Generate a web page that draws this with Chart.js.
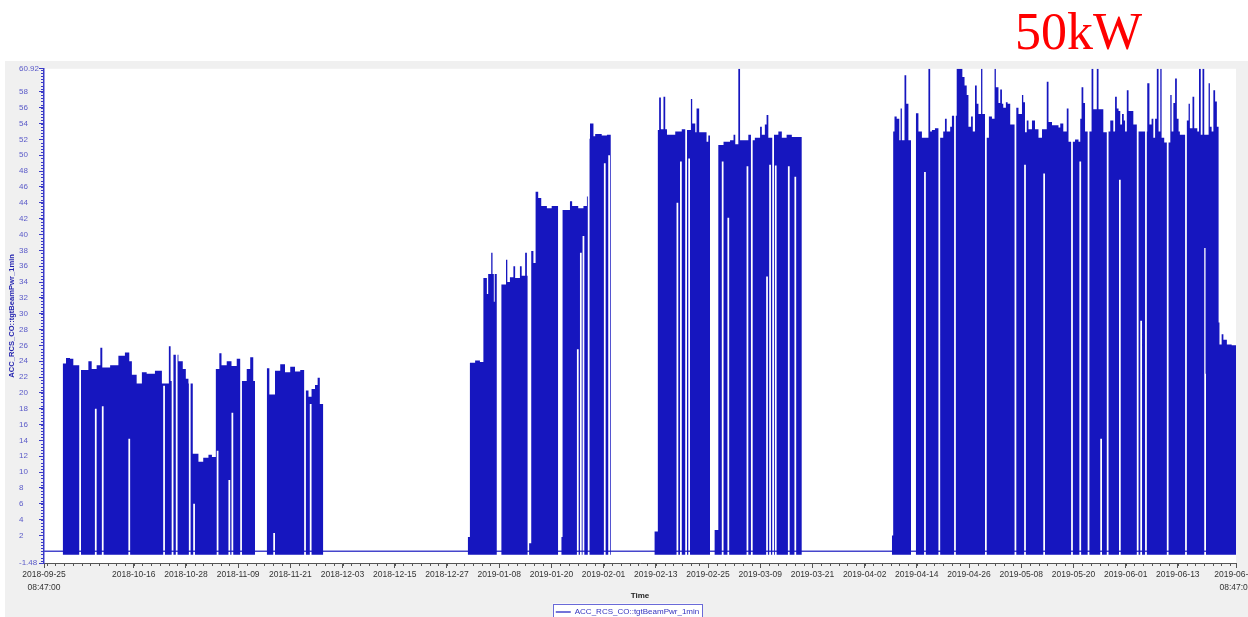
<!DOCTYPE html>
<html>
<head>
<meta charset="utf-8">
<script src="https://cdn.jsdelivr.net/npm/chart.js@4.4.1/dist/chart.umd.min.js"></script>
<style>
  html, body { margin: 0; padding: 0; background: #fff; overflow: hidden; width: 1248px; height: 617px; }
  #bigLabel { position: absolute; left: 1015px; top: 6px; font: 52px/52px "Liberation Serif", "Times New Roman", serif; color: #ff0000; }
  #wrap { position: absolute; left: 5px; top: 61px; width: 1270px; height: 565px; background: #f0f0f0; }
</style>
</head>
<body>
<div id="bigLabel">50kW</div>
<div id="wrap"><canvas id="powerChart" width="1270" height="565"></canvas></div>
<script>
const seriesName = 'ACC_RCS_CO::tgtBeamPwr_1min';
const startTime = Date.UTC(2018, 8, 25, 8, 47);   // 2018-09-25 08:47:00
const spanDays = 274;                             // to 2019-06-26 08:47:00

const xTickDates = ['2018-10-16', '2018-10-28', '2018-11-09', '2018-11-21', '2018-12-03', '2018-12-15',
  '2018-12-27', '2019-01-08', '2019-01-20', '2019-02-01', '2019-02-13', '2019-02-25', '2019-03-09',
  '2019-03-21', '2019-04-02', '2019-04-14', '2019-04-26', '2019-05-08', '2019-05-20', '2019-06-01', '2019-06-13'];
const edgeLabels = [['2018-09-25', '08:47:00'], ['2019-06-26', '08:47:00']];
const yTicks = [-1.48, 2, 4, 6, 8, 10, 12, 14, 16, 18, 20, 22, 24, 26, 28, 30, 32, 34, 36, 38, 40,
  42, 44, 46, 48, 50, 52, 54, 56, 58, 60.92];

// beam-off level under the dense trace (kW)
const floorLevel = -0.45;
const dipWidth = 0.4;

// each run: [day since start, peak power kW] steps, last entry = end day
const run1 = [[4.3, 23.7], [5.06, 24.4], [5.98, 24.3], [6.74, 23.5], [8.28, 22.9], [10.2, 24.0], [10.96, 23.0],
  [12.1, 23.5], [12.95, 25.7], [13.4, 23.2], [15.2, 23.5], [17.1, 24.7], [18.6, 25.1], [19.6, 24.0], [20.2, 22.3],
  [21.3, 21.2], [22.5, 22.6], [23.6, 22.4], [25.5, 22.8], [27.1, 21.2], [28.7, 25.9], [29.1, 21.5], [29.5, 24.8],
  [30.9, 24.0], [31.9, 23.0], [32.6, 21.8], [33.2, 21.2], [34.2, 12.3], [35.5, 11.3], [36.6, 11.8], [37.8, 12.2],
  [38.6, 11.9], [39.5, 23.0], [40.3, 25.0], [40.8, 23.5], [42.0, 24.0], [43.1, 23.4], [44.3, 24.3], [45.4, 21.5],
  [46.6, 23.0], [47.4, 24.5], [48.1, 21.5], [48.5]];
const run2 = [[51.2, 23.1], [51.8, 19.8], [53.1, 22.8], [54.3, 23.6], [55.4, 22.6], [56.6, 23.3], [57.7, 22.7],
  [58.9, 22.9], [60.0, 20.3], [60.8, 19.5], [61.5, 20.5], [62.3, 21.0], [62.9, 21.9], [63.4, 18.6], [64.2]];
const run3 = [[97.4, 1.8], [97.9, 23.8], [99.1, 24.1], [100.2, 23.9], [101.0, 34.5], [101.8, 32.5], [102.1, 35.0],
  [102.8, 37.7], [103.1, 35.0], [103.4, 31.5], [103.6, 35.0], [104.1]];
const run4 = [[105.1, 33.7], [106.2, 36.8], [106.5, 34.0], [107.1, 34.6], [107.9, 36.0], [108.3, 34.5],
  [109.4, 36.0], [109.8, 34.8], [110.6, 37.7], [111.0, 34.8], [111.2]];
const run5 = [[111.5, 1.0], [112.0, 37.9], [112.5, 36.4], [113.0, 45.4], [113.6, 44.6], [114.3, 43.6],
  [115.6, 43.3], [116.7, 43.6], [118.2]];
const run6 = [[118.9, 1.8], [119.2, 43.1], [120.9, 44.2], [121.4, 43.6], [122.8, 43.3], [124.0, 43.6],
  [124.8, 44.8], [125.3, 52.1], [125.5, 54.0], [126.3, 52.4], [126.7, 52.7], [128.2, 52.5], [129.4, 52.6], [130.3]];
const run7 = [[140.3, 2.5], [141.1, 53.2], [141.4, 57.3], [141.8, 53.3], [142.4, 57.4], [142.8, 53.3], [143.2, 52.6],
  [145.1, 53.0], [146.6, 53.3], [147.7, 53.2], [148.7, 57.1], [149.0, 54.0], [149.7, 52.9], [150.0, 55.9],
  [150.6, 52.9], [152.3, 51.7], [152.7, 52.5], [153.1]];
const run8 = [[154.1, 2.7], [155.0, 51.3], [156.2, 51.7], [157.7, 51.9], [158.5, 52.6], [158.9, 51.4], [159.6, 62],
  [160.0, 51.9], [161.9, 52.6], [162.7, 51.9], [163.4, 52.2], [164.6, 53.6], [165.0, 52.6], [165.7, 53.9],
  [166.1, 55.1], [166.5, 52.2], [167.7, 52.6], [168.8, 53.0], [169.6, 52.2], [170.7, 52.6], [171.9, 52.3], [174.2]];
const run9 = [[194.9, 2.0], [195.2, 53.0], [195.5, 54.9], [196.0, 54.6], [196.6, 51.9], [196.9, 55.9], [197.2, 51.9],
  [197.8, 60.1], [198.2, 56.5], [198.7, 51.9], [199.3]];
const run10 = [[200.4, 55.3], [201.0, 53.0], [201.8, 52.2], [203.3, 62], [203.7, 53.0], [204.1, 53.2], [204.8, 53.4],
  [205.7, 52.2], [206.7, 53.0], [207.1, 54.6], [207.5, 53.0], [208.3, 53.6], [208.7, 55.0], [209.8, 62],
  [211.1, 59.9], [211.6, 58.8], [212.1, 57.6], [212.5, 53.6], [213.1, 54.9], [213.5, 53.0], [214.0, 58.8],
  [214.4, 56.5], [214.8, 55.2], [215.4, 62], [215.7, 55.2], [216.7, 52.2], [217.2, 54.9], [217.9, 54.6],
  [218.5, 62], [218.8, 58.6], [219.4, 56.6], [219.8, 58.3], [220.2, 56.5], [220.5, 56.0], [221.1, 56.7],
  [221.5, 56.5], [222.1, 53.9], [223.2, 56.0], [224.0, 55.2], [224.8, 57.6], [225.1, 56.7], [225.5, 52.9],
  [225.9, 54.4], [226.3, 53.3], [227.1, 54.4], [227.8, 53.3], [228.6, 52.2], [229.4, 53.3], [230.5, 59.3],
  [230.9, 54.2], [231.7, 53.8], [233.2, 53.5], [233.6, 54.0], [234.3, 53.0], [235.1, 55.9], [235.5, 51.7],
  [237.0, 52.0], [237.8, 51.7], [238.2, 54.6], [238.5, 58.6], [238.9, 56.6], [239.3, 53.0], [240.3, 53.0],
  [240.8, 62], [241.2, 55.8], [242.0, 62], [242.4, 55.8], [243.5, 52.9], [244.4, 53.0], [245.1, 54.4],
  [245.8, 53.0], [246.2, 57.4], [246.6, 55.9], [247.0, 55.6], [247.4, 53.9], [247.8, 55.2], [248.2, 54.4],
  [248.5, 53.0], [248.9, 58.2], [249.3, 55.6], [250.4, 53.9], [251.3, 53.0], [253.6, 59.1], [254.1, 53.9],
  [254.6, 54.6], [255.0, 52.2], [255.4, 54.6], [255.8, 62], [256.2, 53.0], [256.6, 62], [256.9, 52.2],
  [257.5, 51.6], [258.9, 57.6], [259.2, 53.0], [259.6, 56.6], [260.0, 59.7], [260.4, 54.6], [260.8, 53.0],
  [261.1, 52.6], [262.5, 54.4], [263.1, 56.5], [263.4, 53.4], [264.0, 57.4], [264.4, 53.4], [265.1, 53.0],
  [265.5, 62], [265.9, 52.6], [266.3, 62], [266.7, 52.6], [267.7, 59.1], [268.0, 53.6], [268.4, 53.0],
  [268.8, 58.2], [269.2, 56.8], [269.6, 53.6], [270.0, 28.9], [270.2, 26.1], [270.7, 27.4], [271.1, 26.7],
  [271.9, 26.1], [273.0, 26.0], [274]];

// short interruptions: [day, lowest level reached] (null = beam fully off)
const dips = [[8.1, null], [11.7, 18.0], [13.3, 18.3], [19.4, 14.2], [27.4, 20.9], [29.35, null], [30.3, null],
  [33.3, null], [34.3, 6.0], [39.7, 12.7], [42.4, 9.0], [43.1, 17.5], [45.1, null],
  [52.7, 2.3], [59.8, null], [61.1, 18.6],
  [122.5, 25.5], [123.2, 37.7], [123.8, 39.8], [125.0, null], [128.7, 49.0], [129.7, 50.0],
  [145.4, 44.0], [146.2, 49.2], [147.4, null], [148.1, 49.6],
  [155.8, 49.2], [157.1, 42.1], [161.5, 48.6], [162.5, null], [166.0, 34.7], [166.7, 48.8], [167.4, null],
  [168.0, 48.7], [171.0, 48.6], [172.5, 47.3],
  [202.3, 47.9], [202.7, null], [205.6, null], [209.2, null], [216.3, null], [223.1, null], [225.3, 48.8],
  [229.7, 47.7], [236.1, null], [238.0, 49.2], [239.9, null], [242.8, 14.2], [244.3, null], [247.1, 46.9],
  [251.2, null], [252.0, 29.1], [253.1, null], [258.1, null], [262.3, null], [266.7, 38.3], [267.0, 22.4]];

const runs = [run1, run2, run3, run4, run5, run6, run7, run8, run9, run10];

function dayOf(dateStr) {
  const [y, m, d] = dateStr.split('-').map(Number);
  return (Date.UTC(y, m - 1, d) - startTime) / 86400000;
}
const xTickValues = [0, ...xTickDates.map(dayOf), spanDays];
const xTickText = [edgeLabels[0], ...xTickDates, edgeLabels[1]];

// upper and lower edge of the dense 1-min trace
const topPts = [];
const lowPts = [];
runs.forEach(run => {
  const first = run[0][0];
  const end = run[run.length - 1][0];
  const events = [];
  run.slice(0, -1).forEach(([x, v]) => events.push({x, kind: 'step', v}));
  dips.filter(([x]) => x > first && x + dipWidth < end).forEach(([x, v]) => {
    events.push({x, kind: 'dip', v});
    events.push({x: x + dipWidth, kind: 'restore'});
  });
  events.sort((a, b) => a.x - b.x);
  let top = 0, inDip = false, dipLevel = null;
  for (const e of events) {
    if (e.kind === 'step') top = e.v;
    else if (e.kind === 'dip') { inDip = true; dipLevel = e.v; }
    else inDip = false;
    const low = !inDip ? floorLevel : (dipLevel === null ? top : Math.min(dipLevel, top));
    topPts.push({x: e.x, y: top});
    lowPts.push({x: e.x, y: low});
  }
  topPts.push({x: end, y: top});
  lowPts.push({x: end, y: floorLevel});
  topPts.push({x: end, y: null});
  lowPts.push({x: end, y: null});
});

const beamBlue = '#1616bf';
const axisBlue = '#3b3bc8';

const plotBackground = {
  id: 'plotBackground',
  beforeDraw(chart) {
    const {ctx, chartArea: a} = chart;
    ctx.save();
    ctx.fillStyle = '#ffffff';
    ctx.fillRect(a.left, a.top, a.right - a.left, a.bottom - a.top);
    ctx.restore();
  }
};

const minorTicks = {
  id: 'minorTicks',
  afterDraw(chart) {
    const {ctx, chartArea: a, scales: {x, y}} = chart;
    ctx.save();
    ctx.lineWidth = 1;
    ctx.strokeStyle = '#555';
    ctx.beginPath();
    for (let d = xTickValues[1] % 2; d <= spanDays; d += 2) {
      const px = Math.round(x.getPixelForValue(d)) + 0.5;
      ctx.moveTo(px, a.bottom);
      ctx.lineTo(px, a.bottom + 3);
    }
    ctx.stroke();
    ctx.strokeStyle = axisBlue;
    ctx.beginPath();
    for (let v = -1.2; v < 60.9; v += 0.4) {
      const py = Math.round(y.getPixelForValue(v)) + 0.5;
      ctx.moveTo(a.left - 3, py);
      ctx.lineTo(a.left, py);
    }
    ctx.stroke();
    ctx.restore();
  }
};

const legendFrame = {
  id: 'legendFrame',
  afterDraw(chart) {
    const hb = chart.legend && chart.legend.legendHitBoxes[0];
    if (!hb) return;
    const {ctx} = chart;
    ctx.save();
    ctx.fillStyle = '#ffffff';
    ctx.fillRect(hb.left - 3, hb.top - 4.5, hb.width + 6, 30);
    ctx.strokeStyle = '#6a6ad8';
    ctx.lineWidth = 1;
    ctx.strokeRect(Math.round(hb.left - 3) + 0.5, Math.round(hb.top - 4.5) + 0.5, Math.round(hb.width + 6), 30);
    ctx.restore();
    chart.legend.draw();
  }
};

let ctx = document.getElementById('powerChart').getContext('2d');
let powerChart = new Chart(ctx, {
  type: 'line',
  data: {
    datasets: [{
      label: 'top',
      data: topPts,
      stepped: true,
      borderWidth: 0,
      borderColor: 'rgba(0,0,0,0)',
      backgroundColor: beamBlue,
      pointRadius: 0,
      fill: '+1'
    }, {
      label: 'low',
      data: lowPts,
      stepped: true,
      borderWidth: 0,
      borderColor: 'rgba(0,0,0,0)',
      pointRadius: 0,
      fill: false
    }, {
      label: seriesName,
      data: [{x: 0, y: 0}, {x: spanDays, y: 0}],
      borderColor: '#4646cc',
      backgroundColor: '#4646cc',
      borderWidth: 1.5,
      pointRadius: 0,
      fill: false
    }]
  },
  options: {
    responsive: false,
    animation: false,
    events: [],
    layout: { padding: { left: 14, right: 39, top: 6, bottom: 0 } },
    plugins: {
      tooltip: { enabled: false },
      legend: {
        position: 'bottom',
        labels: {
          filter: item => item.text === seriesName,
          usePointStyle: true,
          pointStyle: 'line',
          pointStyleWidth: 15,
          padding: 6,
          color: '#3434c0',
          font: { family: 'Liberation Sans', size: 8 }
        }
      }
    },
    scales: {
      x: {
        type: 'linear',
        min: 0,
        max: spanDays,
        afterBuildTicks: s => { s.ticks = xTickValues.map(value => ({value})); },
        afterFit: s => { s.height = 39; },
        ticks: {
          autoSkip: false,
          maxRotation: 0,
          padding: 0,
          color: '#333',
          font: { family: 'Liberation Sans', size: 8.5, lineHeight: 1.55 },
          callback: (v, i) => xTickText[i]
        },
        grid: { drawOnChartArea: false, tickLength: 5, color: '#555' },
        border: { color: '#555', width: 1 },
        title: {
          display: true,
          text: 'Time',
          color: '#222',
          font: { family: 'Liberation Sans', size: 8, weight: 'bold' },
          padding: { top: 0, bottom: 1.2 }
        }
      },
      y: {
        min: -1.48,
        max: 60.92,
        afterBuildTicks: s => { s.ticks = yTicks.map(value => ({value})); },
        afterFit: s => { s.width = 25; },
        ticks: {
          autoSkip: false,
          crossAlign: 'far',
          color: '#5a5ac8',
          font: { family: 'Liberation Sans', size: 8 },
          callback: v => String(v)
        },
        grid: { drawOnChartArea: false, tickLength: 5, color: axisBlue },
        border: { color: axisBlue, width: 1.5 },
        title: {
          display: true,
          text: seriesName,
          color: '#2626b0',
          font: { family: 'Liberation Sans', size: 7.6, weight: 'bold' },
          padding: { top: -11.3, bottom: 0 }
        }
      }
    }
  },
  plugins: [plotBackground, minorTicks, legendFrame]
});
</script>
</body>
</html>
